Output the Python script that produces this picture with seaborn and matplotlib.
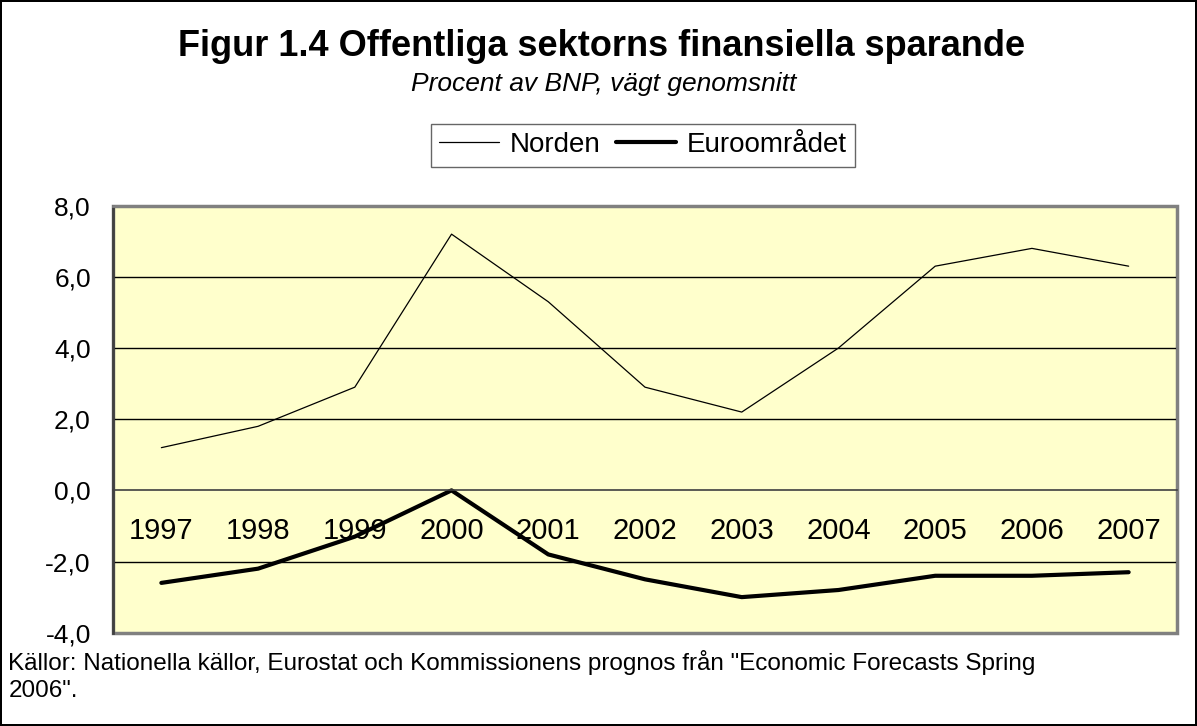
import numpy as np
import pandas as pd
import seaborn as sns
import matplotlib.pyplot as plt
from matplotlib.ticker import FixedLocator, FuncFormatter

# data
years = ["1997", "1998", "1999", "2000", "2001", "2002",
         "2003", "2004", "2005", "2006", "2007"]
norden = [1.2, 1.8, 2.9, 7.2, 5.3, 2.9, 2.2, 4.0, 6.3, 6.8, 6.3]
euro = [-2.6, -2.2, -1.3, 0.0, -1.8, -2.5, -3.0, -2.8, -2.4, -2.4, -2.3]
y_ticks = [-4, -2, 0, 2, 4, 6, 8]

df = pd.DataFrame({"pos": np.arange(len(years)), "Norden": norden, "Euroområdet": euro})

sns.set_theme(style="white")
plt.rcParams["font.family"] = ["Liberation Sans", "DejaVu Sans"]
plt.rcParams["text.color"] = "black"
plt.rcParams["xtick.color"] = "black"
plt.rcParams["ytick.color"] = "black"

fig = plt.figure(figsize=(11.97, 7.26), dpi=100)
fig.patch.set_edgecolor("black")
fig.patch.set_linewidth(1.5)
ax = fig.add_axes([0.0944, 0.1285, 0.8889, 0.5882])
ax.set_facecolor("#FFFFCC")

sns.lineplot(data=df, x="pos", y="Norden", ax=ax, color="black", linewidth=0.9, label="Norden")
sns.lineplot(data=df, x="pos", y="Euroområdet", ax=ax, color="black", linewidth=3.0, label="Euroområdet")

ax.set_xlim(-0.5, len(years) - 0.5)
ax.set_ylim(-4, 8)
ax.set_yticks(y_ticks)
ax.yaxis.set_major_formatter(FuncFormatter(lambda v, p: f"{v:.1f}".replace(".", ",")))
for v in y_ticks[1:-1]:
    if v != 0:
        ax.axhline(v, color="black", linewidth=1.0, zorder=1)

# category axis crossing at zero, ticks between categories, labels centred
ax.spines["bottom"].set_position(("data", 0))
ax.spines["bottom"].set_color("#404040")
ax.spines["bottom"].set_linewidth(1.2)
ax.xaxis.set_major_locator(FixedLocator(np.arange(len(years) + 1) - 0.5))
ax.xaxis.set_minor_locator(FixedLocator(np.arange(len(years))))
ax.set_xticklabels([], minor=False)
ax.set_xticklabels(years, minor=True)
ax.tick_params(axis="x", which="major", direction="out", length=6, width=1, color="#404040")
ax.tick_params(axis="x", which="minor", length=0, pad=19, labelsize=21)
ax.tick_params(axis="y", direction="out", length=7, width=1, color="#404040", labelsize=19, pad=9)
ax.set_xlabel("")
ax.set_ylabel("")

ax.spines["left"].set_color("#404040")
ax.spines["left"].set_linewidth(2)
for s in ["top", "right"]:
    ax.spines[s].set_color("#808080")
    ax.spines[s].set_linewidth(2)
ax.patch.set_edgecolor("#808080")
ax.patch.set_linewidth(2.5)

ax.get_legend().remove()
handles, labels = ax.get_legend_handles_labels()
leg = fig.legend(handles, labels, loc="center", bbox_to_anchor=(0.537, 0.80), ncol=2,
                 fontsize=20, frameon=True, fancybox=False, edgecolor="#404040",
                 handlelength=2.15, handletextpad=0.4, columnspacing=0.55,
                 borderpad=0.3, borderaxespad=0)
leg.get_frame().set_linewidth(1.0)

fig.text(0.5027, 1 - 56 / 726, "Figur 1.4 Offentliga sektorns finansiella sparande",
         ha="center", va="baseline", fontsize=26, fontweight="bold")
fig.text(0.5046, 1 - 91 / 726, "Procent av BNP, vägt genomsnitt",
         ha="center", va="baseline", fontsize=19, style="italic")
fig.text(0.007, 1 - 670 / 726,
         'Källor: Nationella källor, Eurostat och Kommissionens prognos från "Economic Forecasts Spring',
         ha="left", va="baseline", fontsize=17.5)
fig.text(0.007, 1 - 697 / 726, '2006".', ha="left", va="baseline", fontsize=17.5)

fig.savefig("out.png", dpi=100)
